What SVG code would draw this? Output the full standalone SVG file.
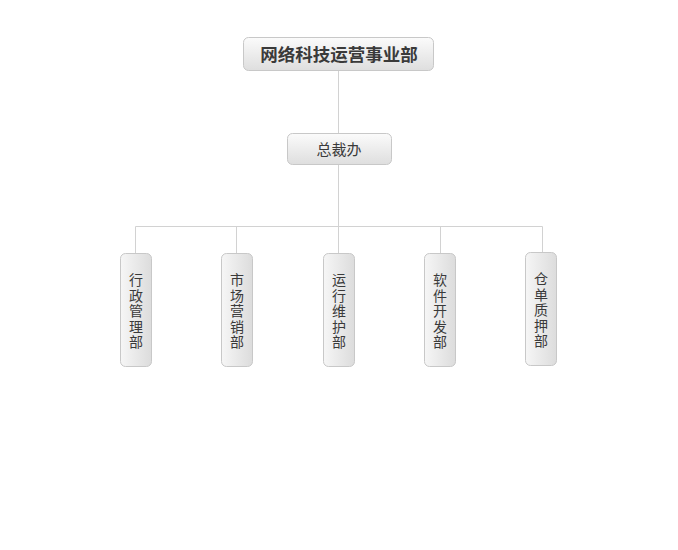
<svg xmlns="http://www.w3.org/2000/svg" width="678" height="550" viewBox="0 0 678 550">
<defs>
<linearGradient id="gv" x1="0" y1="0" x2="0" y2="1">
<stop offset="0" stop-color="#fbfbfb"/>
<stop offset="1" stop-color="#dedede"/>
</linearGradient>
<linearGradient id="gh" x1="0" y1="0" x2="1" y2="0">
<stop offset="0" stop-color="#f6f6f6"/>
<stop offset="1" stop-color="#dcdcdc"/>
</linearGradient>
<style>
.box{stroke:#c8c8c8;stroke-width:1}
.v{fill:url(#gv)}
.h{fill:url(#gh)}
.ln{stroke:#d2d2d2;stroke-width:1;fill:none}
.t{font-family:"Liberation Sans","Noto Sans CJK SC",sans-serif;fill:#3a3a3a;text-anchor:middle}
.tb{font-size:17.5px;font-weight:bold}
.tm{font-size:15px}
.tc{font-size:14px}
</style>
</defs>
<rect width="678" height="550" fill="#ffffff"/>
<g id="connectors">
<path class="ln" d="M338.5 71V133M338.5 165V226.5M135.5 226.5H542.5M135.5 226.5V253M236.5 226.5V253M338.5 226.5V253M440.5 226.5V253M542.5 226.5V252"/>
</g>
<g id="n0">
<rect class="box v" x="243.5" y="37.5" width="190" height="33" rx="5"/>
<text class="t tb" x="339" y="60.5">网络科技运营事业部</text>
</g>
<g id="n1">
<rect class="box v" x="287.5" y="133.5" width="104" height="31" rx="5"/>
<text class="t tm" x="339" y="154.5">总裁办</text>
</g>
<g id="n2">
<rect class="box h" x="120.5" y="253.5" width="31" height="113" rx="5"/>
<text class="t tc" x="136" y="285"><tspan x="136">行</tspan><tspan x="136" dy="15.5">政</tspan><tspan x="136" dy="15.5">管</tspan><tspan x="136" dy="15.5">理</tspan><tspan x="136" dy="15.5">部</tspan></text>
</g>
<g id="n3">
<rect class="box h" x="221.5" y="253.5" width="31" height="113" rx="5"/>
<text class="t tc" x="237" y="285"><tspan x="237">市</tspan><tspan x="237" dy="15.5">场</tspan><tspan x="237" dy="15.5">营</tspan><tspan x="237" dy="15.5">销</tspan><tspan x="237" dy="15.5">部</tspan></text>
</g>
<g id="n4">
<rect class="box h" x="323.5" y="253.5" width="31" height="113" rx="5"/>
<text class="t tc" x="339" y="285"><tspan x="339">运</tspan><tspan x="339" dy="15.5">行</tspan><tspan x="339" dy="15.5">维</tspan><tspan x="339" dy="15.5">护</tspan><tspan x="339" dy="15.5">部</tspan></text>
</g>
<g id="n5">
<rect class="box h" x="424.5" y="253.5" width="31" height="113" rx="5"/>
<text class="t tc" x="440" y="285"><tspan x="440">软</tspan><tspan x="440" dy="15.5">件</tspan><tspan x="440" dy="15.5">开</tspan><tspan x="440" dy="15.5">发</tspan><tspan x="440" dy="15.5">部</tspan></text>
</g>
<g id="n6">
<rect class="box h" x="525.5" y="252.5" width="31" height="113" rx="5"/>
<text class="t tc" x="541" y="284"><tspan x="541">仓</tspan><tspan x="541" dy="15.5">单</tspan><tspan x="541" dy="15.5">质</tspan><tspan x="541" dy="15.5">押</tspan><tspan x="541" dy="15.5">部</tspan></text>
</g>
</svg>
